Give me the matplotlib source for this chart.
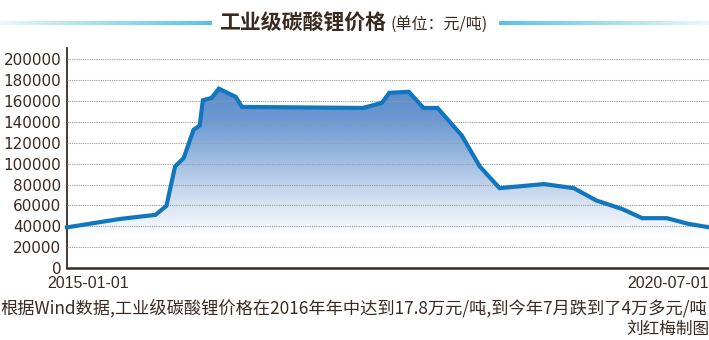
import matplotlib
matplotlib.use("Agg")
import matplotlib.pyplot as plt
import matplotlib.dates as mdates
import numpy as np
import pandas as pd
from matplotlib.patches import Polygon
from matplotlib.colors import LinearSegmentedColormap

plt.rcParams['font.family'] = ['Noto Sans CJK SC', 'DejaVu Sans']

dates = ["2015-01-01", "2015-06-15", "2015-10-05", "2015-11-08", "2015-12-05",
         "2016-01-01", "2016-02-01", "2016-02-20", "2016-03-01", "2016-03-28",
         "2016-04-20", "2016-06-12", "2016-07-01", "2017-07-15", "2017-09-12",
         "2017-10-05", "2017-12-05", "2018-01-20", "2018-03-05", "2018-05-20",
         "2018-07-15", "2018-09-15", "2019-02-01", "2019-05-05", "2019-07-15",
         "2019-10-05", "2019-12-05", "2020-02-20", "2020-04-28", "2020-07-01"]
prices = [39000, 47000, 51000, 59600, 97400,
          105500, 132700, 136500, 160900, 163100,
          172000, 164100, 154500, 153500, 158400,
          168000, 169000, 153500, 153500, 127000,
          97400, 76600, 80500, 76600, 64700,
          56400, 47800, 47800, 42300, 39100]
yticks = [0, 20000, 40000, 60000, 80000, 100000, 120000, 140000, 160000, 180000, 200000]
xtick_labels = ["2015-01-01", "2020-07-01"]
title = "工业级碳酸锂价格"
unit = "(单位：元/吨)"
caption = "根据Wind数据,工业级碳酸锂价格在2016年年中达到17.8万元/吨,到今年7月跌到了4万多元/吨"
credit = "刘红梅制图"

brown = "#3b2a22"
W, H = 709, 340
fig = plt.figure(figsize=(W / 100, H / 100), dpi=100)

ax = fig.add_axes([67 / W, (H - 268) / H, 1 - 67 / W, (268 - 48) / H])
x = mdates.date2num(pd.to_datetime(dates))
y = np.array(prices)
x0, x1 = mdates.date2num(pd.to_datetime(xtick_labels))
ymax = 211000
ax.set_xlim(x0, x1)
ax.set_ylim(0, ymax)

# gradient fill
cmap = LinearSegmentedColormap.from_list("g", [(0.0, "#ffffff"), (0.17, "#ffffff"), (0.35, "#d8e3f3"), (0.8, "#6e9ad3"), (1.0, "#5a8bcb")])
grad = np.linspace(0, 1, 256).reshape(-1, 1)
im = ax.imshow(grad, extent=[x0, x1, 0, 175000], origin="lower", aspect="auto", cmap=cmap, zorder=1)
poly = Polygon(np.column_stack([np.r_[x[0], x, x[-1]], np.r_[0, y, 0]]), closed=True,
               facecolor="none", edgecolor="none", transform=ax.transData)
ax.add_patch(poly)
im.set_clip_path(poly)

ax.set_yticks(yticks)
ax.set_yticklabels([str(v) for v in yticks], fontsize=11, color=brown, family=['DejaVu Sans'])
ax.yaxis.grid(True, color="#9a9a9a", linestyle=(0, (1, 1)), linewidth=0.8, zorder=2)
ax.set_axisbelow(False)
ax.tick_params(axis="y", length=0, pad=4)
ax.tick_params(axis="x", length=0)
ax.set_xticks([])

ax.plot(x, y, color="#0f76bf", linewidth=3.0, solid_joinstyle="miter", zorder=4, clip_on=False)

for s in ["top", "right"]:
    ax.spines[s].set_visible(False)
ax.spines["left"].set_color(brown)
ax.spines["left"].set_linewidth(1.3)
ax.spines["bottom"].set_color(brown)
ax.spines["bottom"].set_linewidth(1.8)

fig.text(47 / W, 1 - 283 / H, xtick_labels[0], fontsize=11.5, color=brown, ha="left", va="center", family=['Liberation Sans'])
fig.text(1.0, 1 - 283 / H, xtick_labels[1], fontsize=11.5, color=brown, ha="right", va="center", family=['Liberation Sans'])

# title
fig.text(386 / W, 1 - 23 / H, title, fontsize=15, fontweight="bold", color=brown, ha="right", va="center")
fig.text(390 / W, 1 - 24 / H, unit, fontsize=11.5, color=brown, ha="left", va="center")

# title side lines
tax = fig.add_axes([0, 1 - 26 / H, 1, 6 / H])
tax.set_xlim(0, W)
tax.set_ylim(0, 1)
tax.axis("off")
lcmap = LinearSegmentedColormap.from_list("l", ["#eaf7fc", "#54c4ea"])
rcmap = LinearSegmentedColormap.from_list("r", ["#54c4ea", "#eaf7fc"])
g = np.linspace(0, 1, 256).reshape(1, -1)
tax.imshow(g, extent=[0, 212, 0.2, 0.8], aspect="auto", cmap=lcmap)
tax.imshow(g, extent=[499, W, 0.2, 0.8], aspect="auto", cmap=rcmap)
tax.set_xlim(0, W)
tax.set_ylim(0, 1)

fig.text(0.0, 1 - 308 / H, caption, fontsize=12.4, color=brown, ha="left", va="center")
fig.text(1.0, 1 - 329 / H, credit, fontsize=12, color=brown, ha="right", va="center")

fig.savefig("out.png", dpi=100)
